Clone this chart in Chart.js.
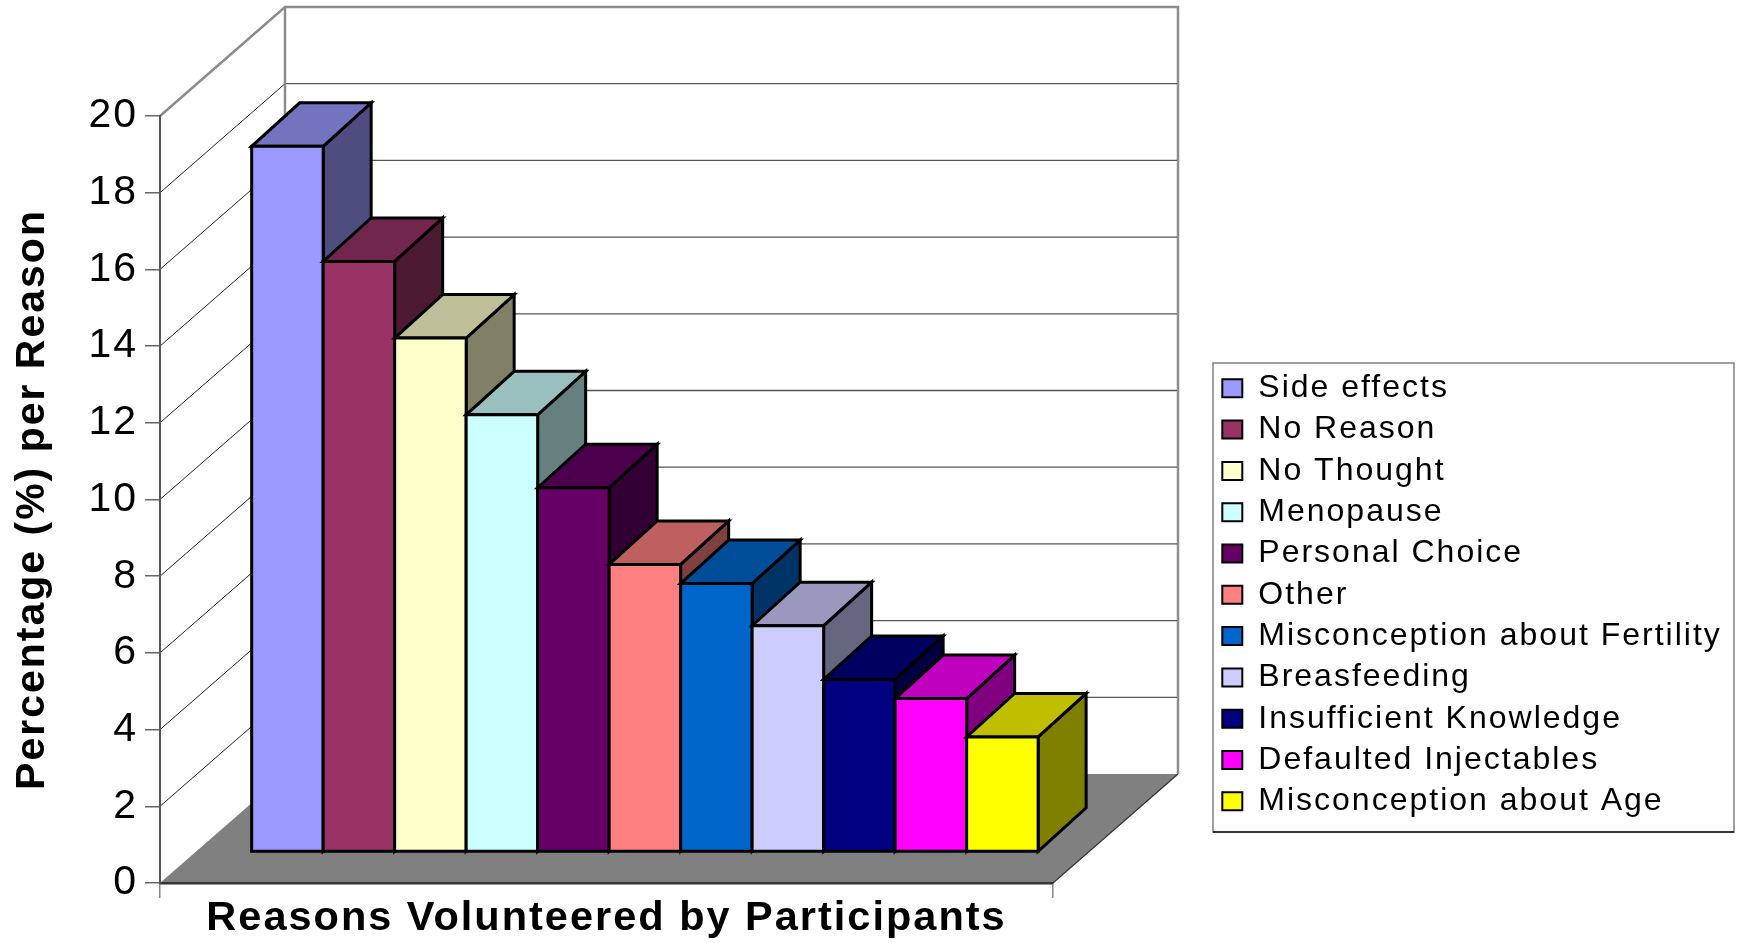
<!DOCTYPE html>
<html>
<head>
<meta charset="utf-8">
<title>Reasons Volunteered by Participants</title>
<script src="https://cdn.jsdelivr.net/npm/chart.js@4.4.0/dist/chart.umd.min.js"></script>
<style>
    html, body { margin: 0; padding: 0; background: #fff; }
    canvas { display: block; }
</style>
</head>
<body>
<canvas id="reasonsChart" width="1751" height="943"></canvas>
<script>
// ============================================================
// Excel-style 3D column chart: one bar per reason, drawn as
// oblique boxes by a small plugin on top of Chart.js scales.
// ============================================================

const reasons = [
    'Side effects', 'No Reason', 'No Thought', 'Menopause', 'Personal Choice',
    'Other', 'Misconception about Fertility', 'Breasfeeding',
    'Insufficient Knowledge', 'Defaulted Injectables', 'Misconception about Age',
];
const percentages = [18.4, 15.4, 13.4, 11.4, 9.5, 7.5, 7.0, 5.9, 4.5, 4.0, 3.0];
const barColors = [
    '#9999FF', '#993366', '#FFFFCC', '#CCFFFF', '#660066',
    '#FF8080', '#0066CC', '#CCCCFF', '#000080', '#FF00FF', '#FFFF00',
];
const categories = [''];
const yMin = 0;
const yMax = 20;
const yStep = 2;

const FONT = "'Liberation Sans', Arial, Helvetica, sans-serif";
const SPACING = '2px';

// Oblique projection of the plot box (px)
const DEPTH_X = 125;
const DEPTH_Y = 109;
const BAR_FRONT = { x: 38.4, y: 31 };
const BAR_DEPTH = { x: 48, y: 43.5 };

function shade(hex, f) {
    const n = parseInt(hex.slice(1), 16);
    const r = Math.round(((n >> 16) & 255) * f);
    const g = Math.round(((n >> 8) & 255) * f);
    const b = Math.round((n & 255) * f);
    return `rgb(${r},${g},${b})`;
}

function poly(ctx, pts, fill) {
    ctx.beginPath();
    ctx.moveTo(pts[0][0], pts[0][1]);
    for (let i = 1; i < pts.length; i++) ctx.lineTo(pts[i][0], pts[i][1]);
    ctx.closePath();
    ctx.fillStyle = fill;
    ctx.fill();
    ctx.stroke();
}

const box3d = {
    id: 'box3d',

    beforeUpdate(chart) {
        chart.ctx.letterSpacing = SPACING;
    },

    // legend sits in its own framed box right of the plot
    afterLayout(chart) {
        const lg = chart.legend;
        lg.left = 1213;
        lg.right = 1734;
        lg.top = 363;
        lg.bottom = 832;
        lg.width = lg.right - lg.left;
        lg.height = lg.bottom - lg.top;
    },

    beforeDraw(chart) {
        const { ctx, chartArea: { left, right }, scales: { y } } = chart;
        ctx.letterSpacing = SPACING;
        const base = y.getPixelForValue(yMin);
        const top = y.getPixelForValue(yMax);

        ctx.save();
        // floor
        ctx.fillStyle = '#808080';
        ctx.beginPath();
        ctx.moveTo(left, base);
        ctx.lineTo(right, base);
        ctx.lineTo(right + DEPTH_X, base - DEPTH_Y);
        ctx.lineTo(left + DEPTH_X, base - DEPTH_Y);
        ctx.closePath();
        ctx.fill();

        ctx.strokeStyle = '#333';
        ctx.lineWidth = 1.2;
        ctx.beginPath();
        ctx.moveTo(right, base);
        ctx.lineTo(right + DEPTH_X, base - DEPTH_Y);
        ctx.stroke();

        // gridlines on side wall and back wall
        y.ticks.forEach(t => {
            if (t.value <= yMin || t.value >= yMax) return;
            const py = y.getPixelForValue(t.value);
            ctx.strokeStyle = '#222';
            ctx.lineWidth = 1;
            ctx.beginPath();
            ctx.moveTo(left, py);
            ctx.lineTo(left + DEPTH_X, py - DEPTH_Y);
            ctx.stroke();
            ctx.strokeStyle = '#555';
            ctx.lineWidth = 1.3;
            ctx.beginPath();
            ctx.moveTo(left + DEPTH_X, py - DEPTH_Y);
            ctx.lineTo(right + DEPTH_X, py - DEPTH_Y);
            ctx.stroke();
        });

        // wall edges
        ctx.strokeStyle = '#8c8c8c';
        ctx.lineWidth = 2.5;
        ctx.beginPath();
        ctx.moveTo(left, top);
        ctx.lineTo(left + DEPTH_X, top - DEPTH_Y);
        ctx.lineTo(right + DEPTH_X, top - DEPTH_Y);
        ctx.lineTo(right + DEPTH_X, base - DEPTH_Y);
        ctx.moveTo(left + DEPTH_X, top - DEPTH_Y);
        ctx.lineTo(left + DEPTH_X, base - DEPTH_Y);
        ctx.stroke();
        ctx.restore();
    },

    // draw every bar as a box, left to right so each covers the previous side
    beforeDatasetsDraw(chart) {
        const ctx = chart.ctx;
        ctx.save();
        ctx.strokeStyle = '#000';
        ctx.lineWidth = 3;
        ctx.lineJoin = 'miter';
        chart.data.datasets.forEach((ds, i) => {
            const el = chart.getDatasetMeta(i).data[0];
            if (!el) return;
            const x0 = el.x - el.width / 2 + BAR_FRONT.x;
            const x1 = x0 + el.width;
            const yt = el.y - BAR_FRONT.y;
            const yb = el.base - BAR_FRONT.y;
            const dx = BAR_DEPTH.x, dy = BAR_DEPTH.y;
            const col = ds.backgroundColor;
            poly(ctx, [[x1, yt], [x1 + dx, yt - dy], [x1 + dx, yb - dy], [x1, yb]], shade(col, 0.5));
            poly(ctx, [[x0, yt], [x1, yt], [x1 + dx, yt - dy], [x0 + dx, yt - dy]], shade(col, 0.75));
            poly(ctx, [[x0, yt], [x1, yt], [x1, yb], [x0, yb]], col);
        });
        ctx.restore();
        return false;
    },

    afterDraw(chart) {
        const { ctx, legend: lg } = chart;
        ctx.save();
        ctx.strokeStyle = '#808080';
        ctx.lineWidth = 1.5;
        ctx.strokeRect(lg.left, lg.top, lg.right - lg.left, lg.bottom - lg.top);
        ctx.strokeStyle = '#111';
        ctx.beginPath();
        ctx.moveTo(lg.left, lg.bottom);
        ctx.lineTo(lg.right, lg.bottom);
        ctx.stroke();
        ctx.restore();
    },
};

Chart.defaults.font.family = FONT;
Chart.defaults.color = '#000';

new Chart(document.getElementById('reasonsChart'), {
    type: 'bar',
    data: {
        labels: categories,
        datasets: reasons.map((r, i) => ({
            label: r,
            data: [percentages[i]],
            backgroundColor: barColors[i],
            borderColor: '#000',
            borderWidth: 2,
        })),
    },
    options: {
        responsive: false,
        animation: false,
        categoryPercentage: 0.8807,
        barPercentage: 1,
        layout: { padding: { top: 116, right: 697, bottom: 0, left: 0 } },
        scales: {
            x: {
                type: 'category',
                ticks: { display: false },
                grid: { drawOnChartArea: false, drawTicks: true, tickLength: 15, color: '#888', lineWidth: 1.5 },
                border: { display: true, color: '#333', width: 2.5 },
                title: {
                    display: true,
                    text: 'Reasons Volunteered by Participants',
                    font: { size: 41.5, weight: 'bold' },
                    color: '#000',
                    padding: { top: 0, bottom: 0 },
                },
                afterFit: axis => { axis.height = 60; },
            },
            y: {
                min: yMin,
                max: yMax,
                ticks: { stepSize: yStep, color: '#000', font: { size: 41 }, padding: 7 },
                grid: { drawOnChartArea: false, drawTicks: true, tickLength: 15, color: '#666', lineWidth: 1.5 },
                border: { display: true, color: '#555', width: 2 },
                title: {
                    display: true,
                    text: 'Percentage (%) per Reason',
                    font: { size: 41, weight: 'bold' },
                    color: '#000',
                    padding: { top: 8, bottom: 0 },
                },
                afterFit: axis => { axis.width = 160; },
            },
        },
        plugins: {
            tooltip: { enabled: false },
            legend: {
                position: 'right',
                align: 'start',
                maxWidth: 1,
                labels: {
                    boxWidth: 20,
                    boxHeight: 18,
                    padding: 9.3,
                    color: '#000',
                    font: { size: 32 },
                },
            },
        },
    },
    plugins: [box3d],
});
</script>
</body>
</html>
